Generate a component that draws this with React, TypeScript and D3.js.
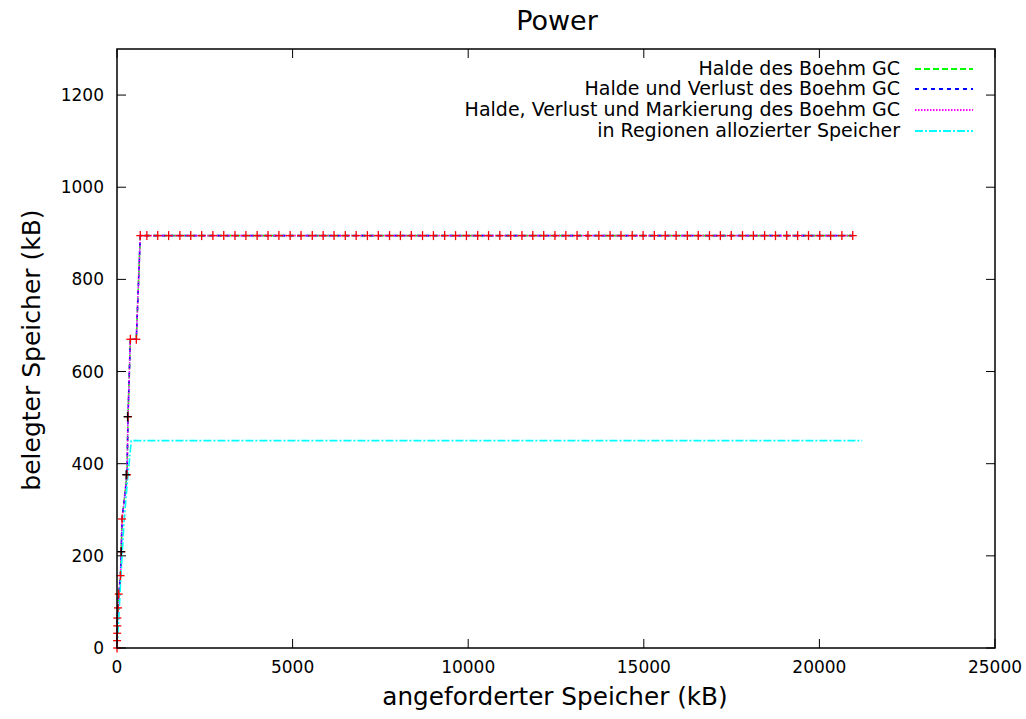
import React from "react";
import * as d3 from "d3";

const W = 1026;
const H = 719;

const title = "Power";
const xLabel = "angeforderter Speicher (kB)";
const yLabel = "belegter Speicher (kB)";
const xTicks = [0, 5000, 10000, 15000, 20000, 25000];
const yTicks = [0, 200, 400, 600, 800, 1000, 1200];

// rising part of the heap curves (kB requested, kB used)
const riseX = [0, 3, 5, 8, 10, 28, 48, 100, 120, 145, 285, 313, 380, 550, 663];
const riseY = [0, 16, 32, 48, 65, 87, 117, 157, 209, 280, 376, 502, 670, 670, 895];
// plateau samples
const plateauX = [850, 1160, 1470, 1790, 2100, 2410, 2730, 3040, 3360, 3670, 3990, 4300, 4610, 4930, 5240, 5560, 5870, 6180, 6500, 6810, 7130, 7440, 7760, 8070, 8380, 8700, 9010, 9330, 9640, 9950, 10270, 10580, 10900, 11210, 11530, 11840, 12150, 12470, 12780, 13100, 13410, 13720, 14040, 14350, 14670, 14980, 15300, 15610, 15920, 16240, 16550, 16870, 17180, 17490, 17810, 18120, 18440, 18750, 19070, 19380, 19690, 20010, 20320, 20640, 20950];
const plateauY = 895;

// regions series
const regionX = [0, 28, 122, 199, 293, 407, 21220];
const regionY = [0, 33, 170, 272, 359, 450, 450];

// black point series
const blackX = [120, 260, 300];
const blackY = [209, 376, 502];

const seriesNames = [
  "Halde des Boehm GC",
  "Halde und Verlust des Boehm GC",
  "Halde, Verlust und Markierung des Boehm GC",
  "in Regionen allozierter Speicher",
];
const seriesColors = ["#00ff00", "#0000ff", "#ff00ff", "#00ffff"];
const seriesDash = ["6,3", "4,4", "1.5,1.5", "8,2,2,2"];

export default function App() {
  const x = d3.scaleLinear().domain([0, 25000]).range([117, 995]);
  const y = d3.scaleLinear().domain([0, 1300]).range([648, 49]);

  const heapPts: [number, number][] = [
    ...riseX.map((v, i) => [v, riseY[i]] as [number, number]),
    ...plateauX.map((v) => [v, plateauY] as [number, number]),
  ];
  const regionPts: [number, number][] = regionX.map((v, i) => [v, regionY[i]]);
  const line = d3
    .line<[number, number]>()
    .x((d) => x(d[0]))
    .y((d) => y(d[1]));

  const heapPath = line(heapPts) || "";
  const regionPath = line(regionPts) || "";
  const paths = [heapPath, heapPath, heapPath, regionPath];

  const plus = (cx: number, cy: number, color: string, k: string) => (
    <g key={k} stroke={color} strokeWidth={1.3}>
      <line x1={cx - 4} x2={cx + 4} y1={cy} y2={cy} />
      <line x1={cx} x2={cx} y1={cy - 4.5} y2={cy + 4.5} />
    </g>
  );

  const font = "DejaVu Sans, sans-serif";
  const left = 117, right = 995, top = 49, bottom = 648;

  return (
    <svg width={W} height={H} style={{ position: "absolute", left: 0, top: 0, background: "#fff" }}>
      <rect x={0} y={0} width={W} height={H} fill="#fff" />
      {/* ticks */}
      <g stroke="#000" strokeWidth={1}>
        {xTicks.map((t) => (
          <g key={"xt" + t}>
            <line x1={x(t)} x2={x(t)} y1={bottom} y2={bottom - 9} />
            <line x1={x(t)} x2={x(t)} y1={top} y2={top + 9} />
          </g>
        ))}
        {yTicks.map((t) => (
          <g key={"yt" + t}>
            <line x1={left} x2={left + 9} y1={y(t)} y2={y(t)} />
            <line x1={right} x2={right - 9} y1={y(t)} y2={y(t)} />
          </g>
        ))}
      </g>
      {/* data lines */}
      {paths.map((p, i) => (
        <path key={"s" + i} d={p} fill="none" stroke={seriesColors[i]} strokeWidth={1.6} strokeDasharray={seriesDash[i]} />
      ))}
      {/* red points */}
      {heapPts.map((d, i) => plus(x(d[0]), y(d[1]), "#ff0000", "r" + i))}
      {blackX.map((v, i) => plus(x(v), y(blackY[i]), "#000", "b" + i))}
      {/* border */}
      <rect x={left} y={top} width={right - left} height={bottom - top} fill="none" stroke="#000" strokeWidth={1.5} />
      {/* tick labels */}
      <g fontFamily={font} fontSize={17} fill="#000">
        {xTicks.map((t) => (
          <text key={"xl" + t} x={x(t)} y={673} textAnchor="middle">{t}</text>
        ))}
        {yTicks.map((t) => (
          <text key={"yl" + t} x={104} y={y(t) + 6} textAnchor="end">{t}</text>
        ))}
      </g>
      {/* titles */}
      <text x={557} y={30} textAnchor="middle" fontFamily={font} fontSize={27}>{title}</text>
      <text x={555} y={705} textAnchor="middle" fontFamily={font} fontSize={24.7}>{xLabel}</text>
      <text transform={`translate(40,350) rotate(-90)`} textAnchor="middle" fontFamily={font} fontSize={25}>{yLabel}</text>
      {/* legend */}
      {seriesNames.map((n, i) => {
        const ly = Math.round(68.6 + i * 20.7);
        return (
          <g key={"lg" + i}>
            <text x={900} y={ly + 6} textAnchor="end" fontFamily={font} fontSize={19}>{n}</text>
            <line x1={915} x2={973} y1={ly} y2={ly} stroke={seriesColors[i]} strokeWidth={2} strokeDasharray={seriesDash[i]} />
          </g>
        );
      })}
    </svg>
  );
}
